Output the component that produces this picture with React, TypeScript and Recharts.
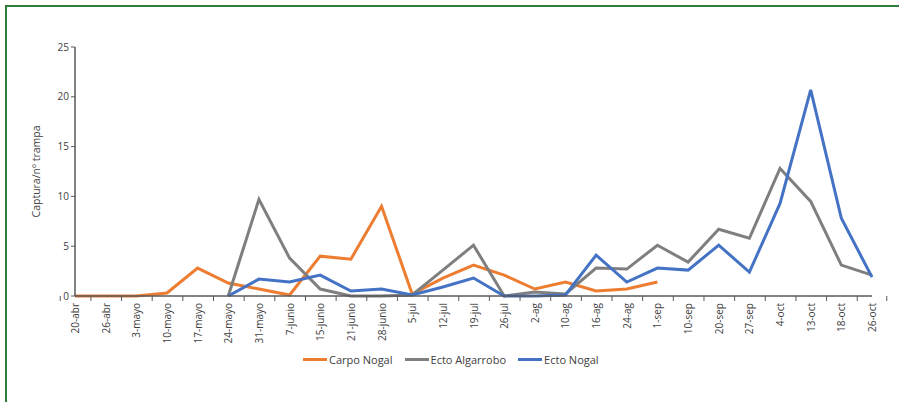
import { LineChart, Line, XAxis, YAxis } from 'recharts'

const categories = [
  '20-abr', '26-abr', '3-mayo', '10-mayo', '17-mayo', '24-mayo', '31-mayo', '7-junio',
  '15-junio', '21-junio', '28-junio', '5-jul', '12-jul', '19-jul', '26-jul', '2-ag',
  '10-ag', '16-ag', '24-ag', '1-sep', '10-sep', '20-sep', '27-sep', '4-oct',
  '13-oct', '18-oct', '26-oct',
]

const carpoNogal = [
  0, 0, 0, 0.3, 2.8, 1.3, 0.7, 0.1, 4.0, 3.7, 9.0, 0.2, 1.8, 3.1, 2.1, 0.7,
  1.4, 0.5, 0.7, 1.4, null, null, null, null, null, null, null,
]

const ectoAlgarrobo = [
  null, null, null, null, null, 0, 9.7, 3.8, 0.7, 0, 0, 0.1, 2.6, 5.1, 0, 0.4,
  0.2, 2.8, 2.7, 5.1, 3.4, 6.7, 5.8, 12.8, 9.5, 3.1, 2.1,
]

const ectoNogal = [
  null, null, null, null, null, 0, 1.7, 1.4, 2.1, 0.5, 0.7, 0.1, 0.9, 1.8, 0, 0,
  0.1, 4.1, 1.4, 2.8, 2.6, 5.1, 2.4, 9.3, 20.7, 7.8, 1.9,
]

const yTicks = [0, 5, 10, 15, 20, 25]

const SERIES = [
  { key: 'carpo', name: 'Carpo Nogal', color: '#ED7D31' },
  { key: 'algarrobo', name: 'Ecto Algarrobo', color: '#7F7F7F' },
  { key: 'ecto', name: 'Ecto Nogal', color: '#4472C4' },
]

const data = categories.map((c, i) => ({
  name: c,
  carpo: carpoNogal[i],
  algarrobo: ectoAlgarrobo[i],
  ecto: ectoNogal[i],
}))

const FONT = "'Open Sans', sans-serif"
const AXIS = '#595959'
const BAND = (872 - 75) / categories.length

// category axis with Excel-style tick marks between the categories
const XTick = (props: any) => {
  const { x, y, payload, index } = props
  const last = index === categories.length - 1
  return (
    <g>
      <line x1={x - BAND / 2} x2={x - BAND / 2} y1={y} y2={y + 5} stroke={AXIS} />
      {last && <line x1={x + BAND / 2} x2={x + BAND / 2} y1={y} y2={y + 5} stroke={AXIS} />}
      <text
        x={x}
        y={y + 7}
        transform={`rotate(-90, ${x}, ${y + 7})`}
        textAnchor="end"
        dominantBaseline="central"
        fontSize={10}
        fill="#404040"
        fontFamily={FONT}
      >
        {payload.value}
      </text>
    </g>
  )
}

export default function App() {
  return (
    <div
      style={{
        position: 'absolute',
        top: 0,
        left: 0,
        width: 899,
        height: 402,
        background: '#fff',
        fontFamily: FONT,
      }}
    >
      <div
        style={{
          position: 'absolute',
          top: 5,
          left: 5,
          right: 0,
          bottom: 0,
          borderTop: '2px solid #2E7D3A',
          borderLeft: '2px solid #2E7D3A',
        }}
      />
      <div style={{ position: 'absolute', top: 0, left: 0 }}>
        <LineChart
          width={899}
          height={402}
          data={data}
          margin={{ top: 47, right: 27, left: 30, bottom: 46 }}
        >
          <XAxis
            dataKey="name"
            interval={0}
            height={60}
            tickLine={false}
            tickSize={0}
            tickMargin={0}
            axisLine={{ stroke: AXIS, strokeWidth: 1.5 }}
            tick={<XTick />}
          />
          <YAxis
            domain={[0, 25]}
            ticks={yTicks}
            width={45}
            tickSize={4}
            axisLine={{ stroke: AXIS, strokeWidth: 1.5 }}
            tickLine={{ stroke: AXIS }}
            tick={{ fontSize: 10, fill: '#404040', fontFamily: FONT }}
            label={{
              value: 'Captura/nº trampa',
              angle: -90,
              position: 'insideLeft',
              offset: 6,
              style: { fontSize: 10.5, fill: '#404040', fontFamily: FONT, textAnchor: 'middle' },
            }}
          />
          {SERIES.map((s) => (
            <Line
              key={s.key}
              type="linear"
              dataKey={s.key}
              name={s.name}
              stroke={s.color}
              strokeWidth={3}
              dot={false}
              isAnimationActive={false}
            />
          ))}
        </LineChart>
      </div>
      <div
        style={{
          position: 'absolute',
          top: 352,
          left: 303,
          display: 'flex',
          alignItems: 'center',
          fontSize: 11,
          color: '#404040',
        }}
      >
        {SERIES.map((s) => (
          <div key={s.key} style={{ display: 'flex', alignItems: 'center', marginRight: 12 }}>
            <div style={{ width: 24, height: 3, background: s.color, marginRight: 2 }} />
            <span>{s.name}</span>
          </div>
        ))}
      </div>
    </div>
  )
}
